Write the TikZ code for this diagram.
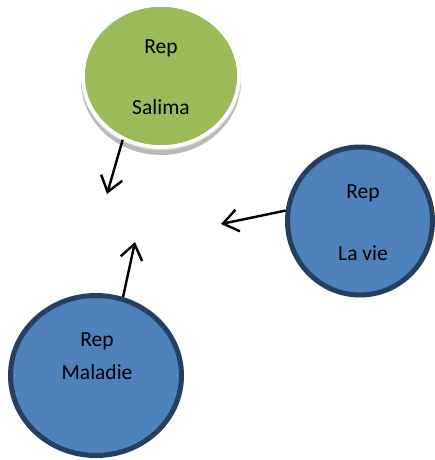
\documentclass[tikz,border=0pt]{standalone}
\usepackage{fontspec}
\setmainfont{Carlito}
\usetikzlibrary{shapes.geometric,arrows.meta}
\definecolor{repgreen}{HTML}{9BBB59}
\definecolor{repblue}{HTML}{4F81BD}
\definecolor{repedge}{HTML}{243F60}
\tikzset{
  bubble/.style={ellipse, inner sep=0pt, font=\fontsize{21.5}{26}\selectfont, align=center},
  bluebubble/.style={bubble, fill=repblue, draw=repedge, line width=5pt},
  link/.style={line width=2.4pt, -{Straight Barb[length=15pt,width=22pt,line width=2.4pt]}}
}
\begin{document}
\begin{tikzpicture}[x=1pt,y=-1pt]
\useasboundingbox[fill=white] (0,0) rectangle (434,460);
% soft shadow under the green bubble
\fill[gray!55] (161,81) ellipse [x radius=80, y radius=74];
\fill[gray!25] (161,78) ellipse [x radius=80, y radius=72];
% green bubble with white rim
\node[bubble, fill=repgreen, draw=white, line width=3.5pt,
      minimum width=156pt, minimum height=142pt] (sal) at (161,76) {};
\node[font=\fontsize{21.5}{26}\selectfont] (salA) at (161,48) {Rep};
\node[font=\fontsize{21.5}{26}\selectfont] (salB) at (161,107) {Salima};
% blue bubbles
\node[bluebubble, minimum width=145pt, minimum height=148pt] (vie) at (360,221) {};
\node[font=\fontsize{21.5}{26}\selectfont] (vieA) at (363,193) {Rep};
\node[font=\fontsize{21.5}{26}\selectfont] (vieB) at (363,253) {La vie};
\node[bluebubble, minimum width=171pt, minimum height=160pt] (mal) at (96,375.5) {};
\node[font=\fontsize{21.5}{26}\selectfont] (malA) at (97,341) {Rep};
\node[font=\fontsize{21.5}{26}\selectfont] (malB) at (97,372) {Maladie};
% arrow ends
\coordinate (t1) at (107,194);
\coordinate (t2) at (221,224);
\coordinate (t3) at (135,242);
\draw[link] (sal.-121) -- (t1);
\draw[link] (vie.172) -- (t2);
\draw[link] (mal.71) -- (t3);
\end{tikzpicture}
\end{document}
